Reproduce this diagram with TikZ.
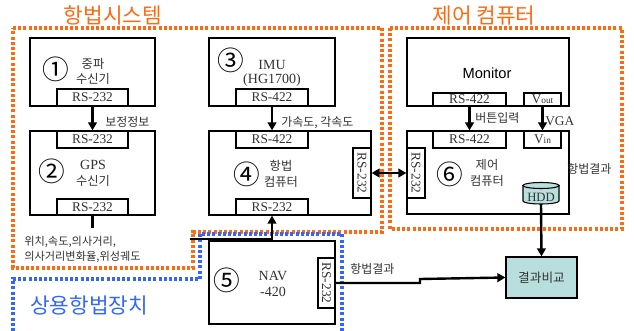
\documentclass[tikz,border=0pt]{standalone}
\usepackage{fontspec}
\setmainfont{Liberation Serif}
\newfontfamily\kr{Noto Sans CJK KR}
\newfontfamily\arialf{Liberation Sans}
\usetikzlibrary{arrows.meta}
\definecolor{orng}{HTML}{FF6A10}
\definecolor{blu}{HTML}{3366FF}
\definecolor{tealf}{HTML}{B8DEDE}
\definecolor{txt}{HTML}{333333}
\def\upx{0.75pt}
\begin{document}
\begin{tikzpicture}[x=0.75pt,y=-0.75pt,
  box/.style={draw, line width=0.9pt, inner sep=0, fill=white},
  port/.style={draw, line width=0.9pt, inner sep=0, fill=white, font=\fontsize{10}{11}\selectfont, text=txt},
  krt/.style={font=\kr\fontsize{9.2}{10}\selectfont, text=txt, inner sep=0},
  ent/.style={font=\fontsize{10.5}{11}\selectfont, text=txt, inner sep=0},
  lbl/.style={font=\kr\fontsize{9}{11}\selectfont, text=txt, inner sep=0, anchor=west},
  num/.style={font=\kr\fontsize{20}{20}\selectfont, inner sep=0},
  arr/.style={line width=1.8pt, -{Triangle[length=6pt,width=6.5pt]}},
  darr/.style={line width=1.8pt, {Triangle[length=6pt,width=6.5pt]}-{Triangle[length=6pt,width=6.5pt]}},
  thk/.style={line width=1.8pt},
  odot/.style={draw=orng, line width=2.3pt, dash pattern=on 2.3pt off 1.6pt},
  bdot/.style={draw=blu, line width=2.3pt, dash pattern=on 2.3pt off 1.6pt},
]
\useasboundingbox (0,0) rectangle (634,331);

% regions
\draw[odot] (13,28) -- (382,28) -- (382,232) -- (193,232) -- (193,268) -- (13,268) -- cycle;
\draw[odot] (390,28) rectangle (622,229);
\draw[bdot] (13,331) -- (13,279) -- (200,279) -- (200,234) -- (342,234) -- (342,331);

\node[font=\kr\fontsize{16}{16}\selectfont, text=orng] (t1) at (113,15) {항법시스템};
\node[font=\kr\fontsize{16}{16}\selectfont, text=orng] (t2) at (484,16) {제어 컴퓨터};
\node[font=\kr\fontsize{16}{16}\selectfont, text=blu] (t3) at (89,305) {상용항법장치};

% box 1
\node[box, minimum width=125*\upx, minimum height=68*\upx] (b1) at (92.5,72) {};
\node[num] (n1) at (56,69) {①};
\node[krt] (b1a) at (93,64) {중파};
\node[krt] (b1b) at (93,79) {수신기};
\node[port, minimum width=71*\upx, minimum height=17*\upx] (p1) at (92.5,97.5) {RS-232};

% box 2
\node[box, minimum width=125*\upx, minimum height=84*\upx] (b2) at (92.5,173) {};
\node[port, minimum width=71*\upx, minimum height=17*\upx] (p2t) at (92.5,139.5) {RS-232};
\node[port, minimum width=71*\upx, minimum height=16*\upx] (p2b) at (92.5,207) {RS-232};
\node[num] (n2) at (52,171) {②};
\node[ent] (b2a) at (93,165) {GPS};
\node[krt] (b2b) at (93,181) {수신기};

% box 3
\node[box, minimum width=126*\upx, minimum height=68*\upx] (b3) at (272,72) {};
\node[num] (n3) at (231,60) {③};
\node[ent] (b3a) at (272,65) {IMU};
\node[ent] (b3b) at (272,80) {(HG1700)};
\node[port, minimum width=72*\upx, minimum height=17*\upx] (p3) at (272,97.5) {RS-422};

% box 4
\node[box, minimum width=162*\upx, minimum height=84*\upx] (b4) at (290,173) {};
\node[port, minimum width=72*\upx, minimum height=17*\upx] (p4t) at (272,139.5) {RS-422};
\node[port, minimum width=72*\upx, minimum height=16*\upx] (p4b) at (272,207) {RS-232};
\node[port, minimum width=50*\upx, minimum height=18*\upx, rotate=-90] (p4r) at (362,173) {RS-232};
\node[num] (n4) at (247,174) {④};
\node[krt] (b4a) at (281,166) {항법};
\node[krt] (b4b) at (281,182) {컴퓨터};

% monitor
\node[box, minimum width=162*\upx, minimum height=68*\upx] (mon) at (488,72) {};
\node[font=\arialf\fontsize{11}{12}\selectfont, inner sep=0] (mont) at (487,73) {Monitor};
\node[port, minimum width=73*\upx, minimum height=13*\upx] (pm1) at (469.5,99.5) {RS-422};
\node[port, minimum width=37*\upx, minimum height=13*\upx] (pm2) at (542.5,99.5) {V{\fontsize{7}{8}\selectfont out}};

% box 6
\node[box, minimum width=162*\upx, minimum height=83*\upx] (b6) at (488,172.5) {};
\node[port, minimum width=73*\upx, minimum height=17*\upx] (p6t) at (469.5,139.5) {RS-422};
\node[port, minimum width=37*\upx, minimum height=17*\upx] (p6v) at (542.5,139.5) {V{\fontsize{7}{8}\selectfont in}};
\node[port, minimum width=50*\upx, minimum height=18*\upx, rotate=-90] (p6l) at (416,173) {RS-232};
\node[num] (n6) at (450,174) {⑥};
\node[krt] (b6a) at (487,165) {제어};
\node[krt] (b6b) at (487,181) {컴퓨터};
% HDD
\draw[line width=0.8pt, fill=tealf] (523,185.5) -- (523,201) arc[start angle=180,end angle=0,x radius=18,y radius=3] -- (559,185.5) -- cycle;
\draw[line width=0.8pt, fill=tealf] (541,185.5) ellipse[x radius=18, y radius=3];
\node[inner sep=0, minimum width=36*\upx, minimum height=13*\upx, font=\fontsize{9.5}{10}\selectfont, text=txt] (hdd) at (541,197) {HDD};

% box 5
\node[box, minimum width=126*\upx, minimum height=83*\upx] (b5) at (272,282.5) {};
\node[port, minimum width=50*\upx, minimum height=17*\upx, rotate=-90] (p5r) at (326.5,283) {RS-232};
\node[num] (n5) at (227,280) {⑤};
\node[ent] (b5a) at (273,276) {NAV};
\node[ent] (b5b) at (273,292) {-420};

% result
\node[box, fill=tealf, minimum width=71*\upx, minimum height=41*\upx, font=\kr\fontsize{9.5}{10}\selectfont, text=txt] (res) at (541.5,277.5) {결과비교};

% connectors
\draw[arr] (p1.south) -- (p2t.north);
\node[lbl] (l1) at (105,122) {보정정보};
\draw[arr] (p3.south) -- (p4t.north);
\node[lbl] (l2) at (281,123) {가속도, 각속도};
\draw[arr] (pm1.south) -- (p6t.north);
\node[lbl] (l3) at (475,118) {버튼입력};
\draw[arr] (pm2.south) -- (p6v.north);
\node[inner sep=0, anchor=west, font=\fontsize{10}{10}\selectfont, text=txt] (l4) at (545,121) {VGA};
\draw[darr] (p4r.north) -- (p6l.south);
\node[lbl] (l5) at (567,169) {항법결과};

\coordinate (g1) at (92.5,228);
\draw[thk] (p2b.south) -- (g1);
\node[lbl, font=\kr\fontsize{8.4}{10}\selectfont] (l6a) at (24,242) {위치,속도,의사거리,};
\node[lbl, font=\kr\fontsize{8.4}{10}\selectfont] (l6b) at (24,257) {의사거리변화율,위성궤도};
\coordinate (g2) at (190,239);
\draw[arr] (g2) -- (272,239) -- (p4b.south);

\coordinate (hb) at (541,204);
\draw[arr] (hb) -- (res.north);
\coordinate (j1) at (420,283);
\coordinate (j2) at (420,279);
\draw[arr] (p5r.north) -- (j1) -- (j2) -- (res.west);
\node[lbl] (l7) at (350,269) {항법결과};
\end{tikzpicture}
\end{document}
